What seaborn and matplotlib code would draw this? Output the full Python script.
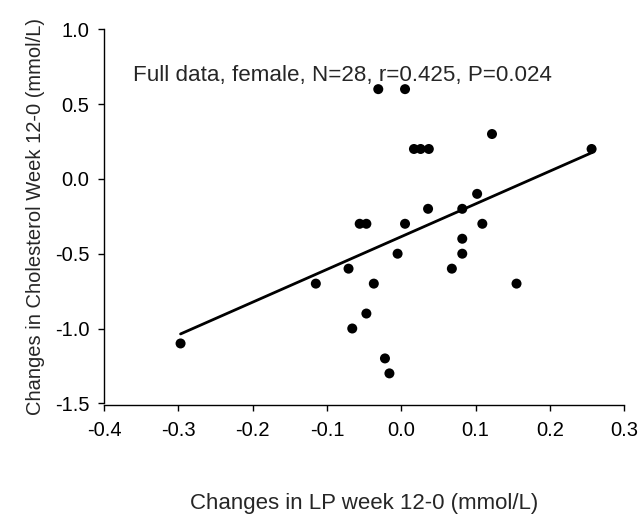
import matplotlib
matplotlib.use("Agg")
import matplotlib.pyplot as plt
import seaborn as sns
import pandas as pd

# Data
lp_change = [-0.297, -0.115, -0.071, -0.066, -0.056, -0.047, -0.047, -0.037, -0.031,
             -0.022, -0.016, -0.005, 0.005, 0.005, 0.017, 0.026, 0.037, 0.036,
             0.068, 0.082, 0.082, 0.082, 0.102, 0.109, 0.122, 0.155, 0.256]
chol_change = [-1.1, -0.7, -0.6, -1.0, -0.3, -0.3, -0.9, -0.7, 0.6,
               -1.2, -1.3, -0.5, 0.6, -0.3, 0.2, 0.2, 0.2, -0.2,
               -0.6, -0.2, -0.4, -0.5, -0.1, -0.3, 0.3, -0.7, 0.2]
x_ticks = [-0.4, -0.3, -0.2, -0.1, 0.0, 0.1, 0.2, 0.3]
y_ticks = [-1.5, -1.0, -0.5, 0.0, 0.5, 1.0]
annotation = "Full data, female, N=28, r=0.425, P=0.024"
x_label = "Changes in LP week 12-0 (mmol/L)"
y_label = "Changes in Cholesterol Week 12-0 (mmol/L)"

df = pd.DataFrame({"lp": lp_change, "chol": chol_change})

sns.set_style("ticks")
plt.rcParams["font.family"] = ["Liberation Sans", "DejaVu Sans"]

fig = plt.figure(figsize=(6.42, 5.19), dpi=100)
ax = fig.add_axes([104 / 642, 1 - 403.3 / 519, (624.3 - 104) / 642, (403.3 - 29.3) / 519])

sns.regplot(data=df, x="lp", y="chol", ax=ax, ci=None, truncate=True,
            scatter_kws=dict(s=52, color="black", edgecolor="none", alpha=1),
            line_kws=dict(color="black", lw=2.0))

ax.set_xlim(-0.4, 0.3)
ax.set_ylim(-1.5, 1.0)
ax.set_xticks(x_ticks)
ax.set_xticklabels([f"{t:.1f}" for t in x_ticks])
ax.set_yticks(y_ticks)
ax.set_yticklabels([f"{t:.1f}" for t in y_ticks])
ax.tick_params(direction="out", length=4, width=1, labelsize=14.5, colors="black")
ax.tick_params(axis="x", pad=7.5)
ax.tick_params(axis="y", pad=6.5)

for s in ["top", "right"]:
    ax.spines[s].set_visible(False)
for s in ["left", "bottom"]:
    ax.spines[s].set_linewidth(1.0)
    ax.spines[s].set_color("black")
ax.spines["bottom"].set_position(("outward", 1.5))

ax.set_xlabel(x_label, fontsize=16)
ax.set_ylabel(y_label, fontsize=14.5)
ax.xaxis.set_label_coords(0.5, -(504 - 403.3) / 374.0, transform=ax.transAxes)
ax.yaxis.set_label_coords(-(104 - 36) / 520.3, 0.5, transform=ax.transAxes)
ax.xaxis.label.set_va("center")
ax.yaxis.label.set_va("center")

ax.text(0.0557, 0.876, annotation, transform=ax.transAxes, fontsize=16.1,
        ha="left", va="center")

fig.savefig("out.png", dpi=100, facecolor="white")
